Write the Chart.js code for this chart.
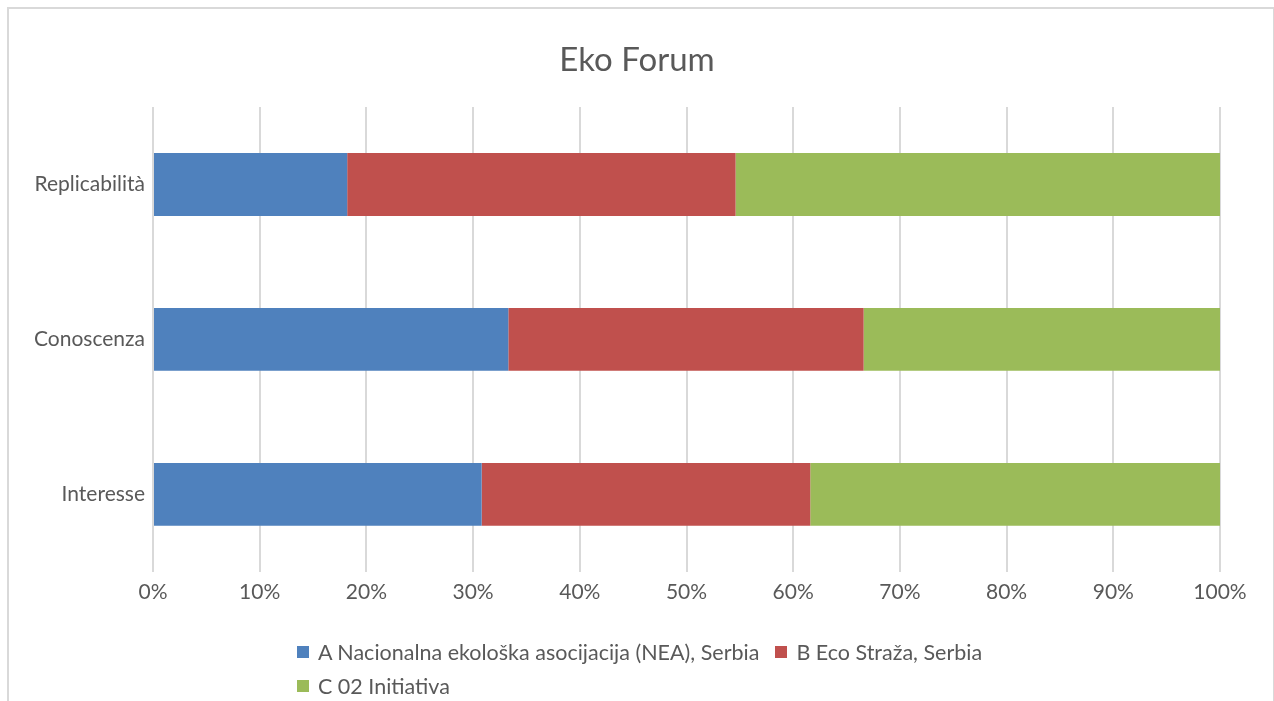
<!DOCTYPE html>
<html>
<head>
<meta charset="utf-8">
<title>Eko Forum</title>
<script src="https://cdn.jsdelivr.net/npm/chart.js@4"></script>
<style>
  body { margin: 0; background: #fff; overflow: hidden; }
  #wrap { position: relative; width: 1274px; height: 701px; }
  #frame {
    position: absolute; left: 7px; top: 7px; width: 1264px; height: 720px;
    border: 2px solid #d9d9d9; pointer-events: none;
  }
  #legend {
    position: absolute; left: 297px; top: 635px; width: 760px;
    display: flex; flex-wrap: wrap; font-family: Lato, sans-serif;
    font-size: 21.5px; color: #595959;
  }
  #legend .item { display: flex; align-items: center; height: 34px; margin-right: 16px; }
  #legend .box { width: 12px; height: 12px; margin-right: 9px; }
</style>
</head>
<body>
<div id="wrap">
  <canvas id="chart" width="1274" height="701"></canvas>
  <div id="frame"></div>
  <div id="legend"></div>
</div>
<script>
// Eko Forum - 100% stacked horizontal bars

const categories = ['Replicabilità', 'Conoscenza', 'Interesse'];
const seriesNames = [
  'A Nacionalna ekološka asocijacija (NEA), Serbia',
  'B Eco Straža, Serbia',
  'C 02 Initiativa'
];
const seriesA = [18.2, 33.3, 30.8];
const seriesB = [36.4, 33.3, 30.8];
const seriesC = [45.4, 33.4, 38.4];
const xTicks = [0, 10, 20, 30, 40, 50, 60, 70, 80, 90, 100];
const chartTitle = 'Eko Forum';

const colors = ['#4f81bd', '#c0504d', '#9bbb59'];
const textColor = '#595959';

// Title centred on the whole page, not on the padded layout box
const pageTitle = {
  id: 'pageTitle',
  afterDraw(chart) {
    const c = chart.ctx;
    c.save();
    c.font = '33px Lato';
    c.fillStyle = textColor;
    c.textAlign = 'center';
    c.textBaseline = 'middle';
    c.fillText(chartTitle, chart.width / 2, 60);
    c.restore();
  }
};

const ctx = document.getElementById('chart');

const chart = new Chart(ctx, {
  type: 'bar',
  data: {
    labels: categories,
    datasets: [seriesA, seriesB, seriesC].map((values, i) => ({
      label: seriesNames[i],
      data: values,
      backgroundColor: colors[i],
      borderWidth: 0,
      categoryPercentage: 1,
      barPercentage: 0.406
    }))
  },
  plugins: [pageTitle],
  options: {
    indexAxis: 'y',
    responsive: false,
    animation: false,
    layout: {
      padding: { left: 0, right: 54, top: 107, bottom: 88 }
    },
    plugins: {
      legend: { display: false },
      tooltip: { enabled: false },
      title: { display: false }
    },
    scales: {
      x: {
        stacked: true,
        min: 0,
        max: 100,
        afterBuildTicks: (scale) => {
          scale.ticks = xTicks.map(v => ({ value: v }));
        },
        grid: { color: '#d9d9d9', lineWidth: 2, drawTicks: false },
        border: { display: false },
        ticks: {
          color: textColor,
          font: { family: 'Lato', size: 21 },
          padding: 8,
          maxRotation: 0,
          callback: (v) => v + '%'
        }
      },
      y: {
        stacked: true,
        afterFit: (scale) => { scale.width = 153; },
        grid: { display: false, drawTicks: false },
        border: { display: false },
        ticks: {
          color: textColor,
          font: { family: 'Lato', size: 21 },
          padding: 8
        }
      }
    }
  }
});

// Legend laid out like the spreadsheet one: rows start at the same left edge
const legendEl = document.getElementById('legend');
chart.data.datasets.forEach(ds => {
  const item = document.createElement('div');
  item.className = 'item';
  const box = document.createElement('span');
  box.className = 'box';
  box.style.background = ds.backgroundColor;
  const label = document.createElement('span');
  label.textContent = ds.label;
  item.appendChild(box);
  item.appendChild(label);
  legendEl.appendChild(item);
});
</script>
</body>
</html>
